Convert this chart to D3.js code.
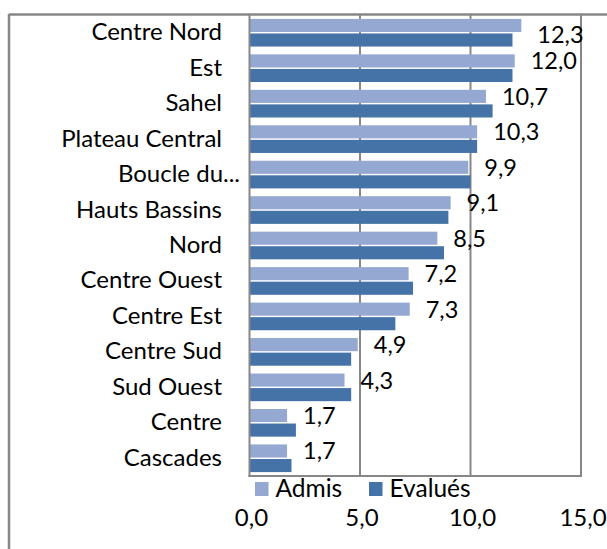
<!DOCTYPE html>
<html>
<head>
<meta charset="utf-8">
<script src="https://cdn.jsdelivr.net/npm/d3@7"></script>
<style>
  body { margin: 0; background: #fff; }
  text { font-family: Lato, "Open Sans", sans-serif; fill: #000; }
</style>
</head>
<body>
<svg width="607" height="549"></svg>
<script>
var categories = ["Centre Nord", "Est", "Sahel", "Plateau Central", "Boucle du...", "Hauts Bassins",
                  "Nord", "Centre Ouest", "Centre Est", "Centre Sud", "Sud Ouest", "Centre", "Cascades"];
var series = ["Admis", "Evalués"];
var admis   = [12.3, 12.0, 10.7, 10.3, 9.9, 9.1, 8.5, 7.2, 7.25, 4.9, 4.3, 1.7, 1.7];
var evalues = [11.9, 11.9, 11.0, 10.3, 10.0, 9.0, 8.8, 7.4, 6.6, 4.6, 4.6, 2.1, 1.9];
var xTicks = [0, 5, 10, 15];

var colors = {"Admis": "#94a8d1", "Evalués": "#4573a7"};
var grey = "#878787";

var svg = d3.select("svg");

var fr = d3.formatLocale({decimal: ",", thousands: " ", grouping: [3], currency: ["", " €"]});
var fmt = fr.format(".1f");

var x = d3.scaleLinear().domain([0, 15]).range([249.5, 581]);
var y0 = d3.scaleBand().domain(categories).range([15, 476]).paddingInner(0.22).paddingOuter(0.11);
var y1 = d3.scaleBand().domain(series).range([0, y0.bandwidth()]).paddingInner(0.1);

// outer chart frame (only top and left are visible)
svg.append("line").attr("x1", 9).attr("x2", 607).attr("y1", 14.5).attr("y2", 14.5)
   .attr("stroke", grey).attr("stroke-width", 2.5);
svg.append("line").attr("x1", 9).attr("x2", 9).attr("y1", 14).attr("y2", 549)
   .attr("stroke", grey).attr("stroke-width", 2.5);

// gridlines
svg.selectAll(".grid").data(xTicks.slice(1)).enter().append("line")
   .attr("x1", d => x(d)).attr("x2", d => x(d))
   .attr("y1", 15).attr("y2", 476)
   .attr("stroke", grey).attr("stroke-width", 2);

// bars
var rows = categories.map((c, i) => ({cat: c, Admis: admis[i], "Evalués": evalues[i]}));
var g = svg.selectAll(".row").data(rows).enter().append("g")
   .attr("transform", d => "translate(0," + y0(d.cat) + ")");
g.selectAll("rect").data(d => series.map(s => ({s: s, v: d[s]}))).enter().append("rect")
   .attr("x", x(0))
   .attr("y", d => y1(d.s))
   .attr("width", d => x(d.v) - x(0))
   .attr("height", y1.bandwidth())
   .attr("fill", d => colors[d.s]);

// axis line + bottom of plot
svg.append("line").attr("x1", x(0)).attr("x2", x(0)).attr("y1", 15).attr("y2", 477)
   .attr("stroke", grey).attr("stroke-width", 2);
svg.append("line").attr("x1", x(0) - 1).attr("x2", x(15) + 1).attr("y1", 476).attr("y2", 476)
   .attr("stroke", grey).attr("stroke-width", 2);

// category labels
svg.selectAll(".cat").data(categories).enter().append("text")
   .attr("x", d => d.endsWith("...") ? 240 : 222)
   .attr("y", d => y0(d) + y0.bandwidth() / 2 + 7.5)
   .attr("text-anchor", "end")
   .style("font-size", "24px")
   .text(d => d);

// value labels (Admis)
svg.selectAll(".val").data(rows).enter().append("text")
   .attr("x", d => x(d.Admis) + 16)
   .attr("y", (d, i) => y0(d.cat) + y1("Admis") + y1.bandwidth() / 2 + 8.5 + (i === 0 ? 9 : 0))
   .style("font-size", "23.5px")
   .text(d => fmt(d.Admis));

// x tick labels
svg.selectAll(".tick").data(xTicks).enter().append("text")
   .attr("x", d => x(d) + 2)
   .attr("y", 526)
   .attr("text-anchor", "middle")
   .style("font-size", "24px")
   .text(d => fmt(d));

// legend
var legX = [255, 369];
var leg = svg.selectAll(".leg").data(series).enter().append("g")
   .attr("transform", (d, i) => "translate(" + legX[i] + ",482)");
leg.append("rect").attr("width", 13.5).attr("height", 14).attr("fill", d => colors[d]);
leg.append("text").attr("x", 20.5).attr("y", 14.7).style("font-size", "24.5px").text(d => d);
</script>
</body>
</html>
